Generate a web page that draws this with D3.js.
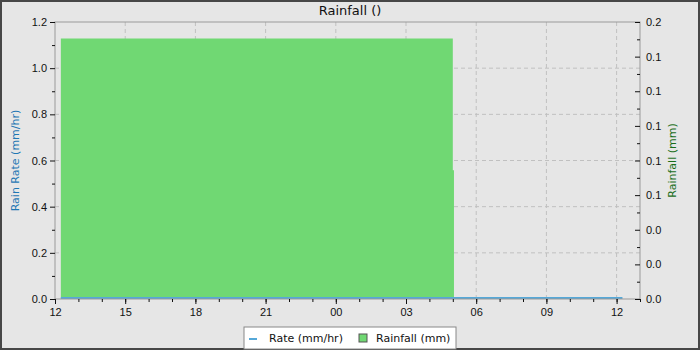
<!DOCTYPE html>
<html>
<head>
<meta charset="utf-8">
<script src="https://cdn.jsdelivr.net/npm/d3@7"></script>
<style>
  body { margin: 0; background: #fff; }
  svg { font-family: "DejaVu Sans", sans-serif; }
</style>
</head>
<body>
<div id="chart"></div>
<script>
// data
var rateTimes = ["2024-01-01 12:15", "2024-01-02 12:15"];
var rateValues = [0, 0];
var rainTimes = ["2024-01-01 12:15", "2024-01-02 05:00", "2024-01-02 05:03", "2024-01-02 12:15"];
var rainValues = [0.188, 0.093, 0, 0];
var rightTicks = [0, 0.025, 0.05, 0.075, 0.1, 0.125, 0.15, 0.175, 0.2];
var rightTickLabels = ["0.0", "0.0", "0.0", "0.1", "0.1", "0.1", "0.1", "0.1", "0.2"];
var leftTicks = [0, 0.2, 0.4, 0.6, 0.8, 1.0, 1.2];

var W = 700, H = 350;
var margin = {top: 22, right: 60, bottom: 51, left: 55},
    width = W - margin.left - margin.right,
    height = H - margin.top - margin.bottom;

var parse = d3.timeParse("%Y-%m-%d %H:%M");

var svg = d3.select("#chart").append("svg")
    .attr("width", W).attr("height", H);

// background + outer border
svg.append("rect").attr("x", 1).attr("y", 1).attr("width", W - 2).attr("height", H - 2)
    .attr("fill", "#e6e6e6").attr("stroke", "#474747").attr("stroke-width", 2);

var g = svg.append("g")
    .attr("transform", "translate(" + margin.left + "," + margin.top + ")");

var x = d3.scaleTime()
    .domain([parse("2024-01-01 12:00"), parse("2024-01-02 13:00")])
    .range([0, width]);
var yL = d3.scaleLinear().domain([0, 1.2]).range([height, 0]);
var yR = d3.scaleLinear().domain([0, 0.2]).range([height, 0]);

// grid
var xMajor = x.ticks(d3.timeHour.every(3));
g.append("g").selectAll("line").data(xMajor.slice(1)).enter().append("line")
    .attr("x1", function(d) { return x(d); }).attr("x2", function(d) { return x(d); })
    .attr("y1", 0).attr("y2", height)
    .attr("stroke", "#c0c0c0").attr("stroke-dasharray", "4,3");
g.append("g").selectAll("line").data(leftTicks.slice(1, -1)).enter().append("line")
    .attr("x1", 0).attr("x2", width)
    .attr("y1", function(d) { return yL(d); }).attr("y2", function(d) { return yL(d); })
    .attr("stroke", "#c0c0c0").attr("stroke-dasharray", "4,3");

// rainfall area
var rain = rainTimes.map(function(t, i) { return {t: parse(t), v: rainValues[i]}; });
g.append("path").datum(rain)
    .attr("fill", "#70d873")
    .attr("d", d3.area().curve(d3.curveStepAfter)
        .x(function(d) { return x(d.t); })
        .y0(height)
        .y1(function(d) { return yR(d.v); }));

// rate line
var rate = rateTimes.map(function(t, i) { return {t: parse(t), v: rateValues[i]}; });
g.append("path").datum(rate)
    .attr("fill", "none").attr("stroke", "#55a8d8").attr("stroke-width", 2)
    .attr("d", d3.line()
        .x(function(d) { return x(d.t); })
        .y(function(d) { return yL(d.v) - 1; }));

// plot frame
g.append("rect").attr("width", width).attr("height", height)
    .attr("fill", "none").attr("stroke", "#999");

function styleAxis(a) {
  a.select(".domain").remove();
  a.selectAll("text").attr("fill", "#111").style("font-size", "11px");
  a.selectAll("line").attr("stroke", "#111");
}

// x axis
var xAx = g.append("g").attr("transform", "translate(0," + height + ")")
    .call(d3.axisBottom(x).tickValues(xMajor).tickFormat(d3.timeFormat("%H")).tickSize(5).tickPadding(4));
styleAxis(xAx);
var xMinor = g.append("g").attr("transform", "translate(0," + height + ")")
    .call(d3.axisBottom(x).ticks(d3.timeHour.every(1)).tickFormat("").tickSize(3));
styleAxis(xMinor);

// left axis
var yAx = g.append("g")
    .call(d3.axisLeft(yL).tickValues(leftTicks).tickFormat(d3.format(".1f")).tickSize(5).tickPadding(3));
styleAxis(yAx);
var yMinor = g.append("g")
    .call(d3.axisLeft(yL).tickValues(d3.range(0.1, 1.2, 0.2)).tickFormat("").tickSize(3));
styleAxis(yMinor);

// right axis (ticks inside)
var rAx = g.append("g").attr("transform", "translate(" + width + ",0)")
    .call(d3.axisRight(yR).tickValues(rightTicks)
        .tickFormat(function(d, i) { return rightTickLabels[i]; })
        .tickSize(0).tickPadding(6));
styleAxis(rAx);
rAx.selectAll(".tick line").attr("x1", -5).attr("x2", 0);
var rMinor = g.append("g").attr("transform", "translate(" + width + ",0)")
    .call(d3.axisRight(yR).tickValues(d3.range(0.0125, 0.2, 0.025)).tickFormat("").tickSize(0));
styleAxis(rMinor);
rMinor.selectAll(".tick line").attr("x1", -3).attr("x2", 0);

// title and axis labels
svg.append("text").attr("x", W / 2).attr("y", 15).attr("text-anchor", "middle")
    .style("font-size", "13px").attr("fill", "#111").text("Rainfall ()");
svg.append("text").attr("transform", "translate(19," + (margin.top + height / 2) + ") rotate(-90)")
    .attr("text-anchor", "middle").style("font-size", "11px").attr("fill", "#1f77b4")
    .text("Rain Rate (mm/hr)");
svg.append("text").attr("transform", "translate(676," + (margin.top + height / 2) + ") rotate(-90)")
    .attr("text-anchor", "middle").style("font-size", "11px").attr("fill", "#1a6e1a")
    .text("Rainfall (mm)");

// legend
var lg = svg.append("g").attr("transform", "translate(244,327)");
lg.append("rect").attr("width", 212).attr("height", 22)
    .attr("fill", "#fff").attr("stroke", "#888");
lg.append("line").attr("x1", 5).attr("x2", 13).attr("y1", 12).attr("y2", 12)
    .attr("stroke", "#55a8d8").attr("stroke-width", 2);
lg.append("text").attr("x", 25).attr("y", 15).style("font-size", "11px").attr("fill", "#111")
    .text("Rate (mm/hr)");
lg.append("rect").attr("x", 115).attr("y", 7).attr("width", 8).attr("height", 8)
    .attr("fill", "#70d873").attr("stroke", "#555");
lg.append("text").attr("x", 132).attr("y", 15).style("font-size", "11px").attr("fill", "#111")
    .text("Rainfall (mm)");
</script>
</body>
</html>
